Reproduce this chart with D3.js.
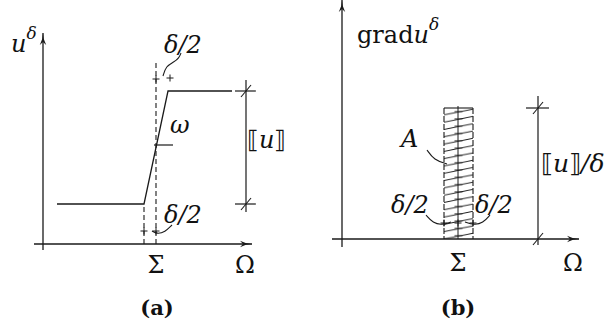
<!DOCTYPE html>
<html><head><meta charset="utf-8">
<script src="https://cdn.jsdelivr.net/npm/d3@7"></script>
<style>
html,body{margin:0;padding:0;background:#fff;}
svg{display:block;}
</style></head>
<body>
<svg id="c" width="614" height="330"></svg>
<script>
// ---- Panel (a) data (abstract units) ----
const stepX = [0.7, 5.05, 6.25, 9.45];        // profile of u^delta
const stepY = [2.0, 2.0, 7.65, 7.65];
const sigmaA = 5.65, leftBandA = 5.05;
const jumpXA = 10.15;                          // dimension line [[u]]
const omegaY = 4.95;
const dashTopA = 9.15;
const plusA = [[5.65, 8.25], [6.35, 8.3], [5.05, 0.65], [5.65, 0.65]];
const braceTopA = [[6.0, 8.4], [6.15, 8.9], [6.55, 9.1], [6.8, 9.3], [6.9, 9.55]];
const braceBotA = [[5.45, 0.65], [5.7, 0.5], [6.1, 0.6], [6.45, 0.95]];

// ---- Panel (b) data ----
const bandB = [5.1, 6.55];       // hatched band (x)
const sigmaB = 5.8;
const bandTopB = 6.55;
const jumpXB = 9.8, jumpTopB = 7.15;
const plusB = [[5.1, 0.8], [5.8, 0.8], [6.55, 0.8]];
const braceLB = [[4.2, 1.2], [4.55, 0.8], [5.0, 0.7], [5.45, 0.85]];
const braceRB = [[6.15, 0.85], [6.6, 0.7], [7.05, 0.8], [7.4, 1.2]];
const braceAB = [[4.25, 4.45], [4.6, 3.95], [5.25, 3.75]];

const svg = d3.select("#c");
const xA = d3.scaleLinear().domain([0, 10]).range([43, 243]);
const yA = d3.scaleLinear().domain([0, 10]).range([244, 44]);
const xB = d3.scaleLinear().domain([0, 10]).range([342, 542]);
const yB = d3.scaleLinear().domain([0, 10]).range([239, 39]);

const ink = "#1a1a1a";
const defs = svg.append("defs");
defs.append("marker").attr("id","arr").attr("viewBox","0 0 12 8").attr("refX",12).attr("refY",4)
  .attr("markerWidth",12).attr("markerHeight",8).attr("markerUnits","userSpaceOnUse").attr("orient","auto")
  .append("path").attr("d","M0,0.8 Q6,4 12,4 Q6,4 0,7.2 L3,4 Z").attr("fill",ink);

function line(g, x1, y1, x2, y2, w, dash) {
  const l = g.append("line").attr("x1",x1).attr("y1",y1).attr("x2",x2).attr("y2",y2)
    .attr("stroke",ink).attr("stroke-width",w||1.2);
  if (dash) l.attr("stroke-dasharray",dash);
  return l;
}
function plus(g, x, y) { line(g,x-3.5,y,x+3.5,y,1); line(g,x,y-3.5,x,y+3.5,1); }
function slash(g, x, y) { line(g,x-5,y+6,x+5,y-6,1.1); }
const curve = (sx, sy) => d3.line().x(d => sx(d[0])).y(d => sy(d[1])).curve(d3.curveBasis);
function txt(g, x, y, size, italic) {
  const t = g.append("text").attr("x",x).attr("y",y)
    .attr("font-size", size).attr("font-family","DejaVu Serif").attr("fill","#111");
  if (italic) t.attr("font-style","italic");
  return t;
}

// ================= Panel (a) =================
const a = svg.append("g");
line(a, xA(0), yA(-0.3), xA(0), yA(10.55), 1.3).attr("marker-end","url(#arr)");
line(a, xA(-0.45), yA(0), xA(10.45), yA(0), 1.3).attr("marker-end","url(#arr)");
a.append("path").datum(d3.zip(stepX, stepY)).attr("fill","none").attr("stroke",ink).attr("stroke-width",1.3)
  .attr("d", d3.line().x(d=>xA(d[0])).y(d=>yA(d[1])));
line(a, xA(sigmaA), yA(0), xA(sigmaA), yA(dashTopA), 1.1, "5,3");
line(a, xA(leftBandA), yA(0), xA(leftBandA), yA(stepY[0]), 1.1, "5,3");
line(a, xA(5.55), yA(omegaY), xA(6.5), yA(omegaY), 1.2);
line(a, xA(jumpXA), yA(stepY[3]+0.55), xA(jumpXA), yA(stepY[0]-0.4), 1.2);
line(a, xA(jumpXA-0.55), yA(stepY[3]), xA(jumpXA+0.5), yA(stepY[3]), 1.2);
line(a, xA(jumpXA-0.55), yA(stepY[0]), xA(jumpXA+0.5), yA(stepY[0]), 1.2);
slash(a, xA(jumpXA), yA(stepY[3]));
slash(a, xA(jumpXA), yA(stepY[0]));
plusA.forEach(p => plus(a, xA(p[0]), yA(p[1])));
a.append("path").attr("d", curve(xA,yA)(braceTopA)).attr("fill","none").attr("stroke",ink).attr("stroke-width",1.1);
a.append("path").attr("d", curve(xA,yA)(braceBotA)).attr("fill","none").attr("stroke",ink).attr("stroke-width",1.1);

const fs = 24;
let t = txt(a, 11, 52, fs, true);
t.append("tspan").text("u");
t.append("tspan").attr("dy",-13).attr("font-size",17).text("δ");
txt(a, 164, 53, fs, true).text("δ/2");
txt(a, 164, 223, fs, true).text("δ/2");
txt(a, 170, 133, fs, true).text("ω");
t = txt(a, 247, 148, fs, false);
t.append("tspan").text("⟦");
t.append("tspan").attr("font-style","italic").text("u");
t.append("tspan").text("⟧");
txt(a, xA(sigmaA), 273, fs).attr("text-anchor","middle").text("Σ");
txt(a, xA(jumpXA)-1, 273, fs).attr("text-anchor","middle").text("Ω");
txt(a, 157, 315, 21).attr("text-anchor","middle").attr("font-weight","bold").text("(a)");

// ================= Panel (b) =================
const b = svg.append("g");
line(b, xB(0), yB(-0.4), xB(0), yB(11.95), 1.3).attr("marker-end","url(#arr)");
line(b, xB(-0.5), yB(0), xB(11.85), yB(0), 1.3).attr("marker-end","url(#arr)");

const bx0 = xB(bandB[0]), bx1 = xB(bandB[1]), bw = bx1 - bx0, by0 = yB(bandTopB), by1 = yB(0);
const pat = defs.append("pattern").attr("id","hatch").attr("patternUnits","userSpaceOnUse")
  .attr("x",bx0).attr("y",by0).attr("width",bw).attr("height",7.3);
pat.append("line").attr("x1",0).attr("y1",6.8).attr("x2",bw).attr("y2",1.2).attr("stroke",ink).attr("stroke-width",1);
pat.append("line").attr("x1",bw/2-4).attr("y1",3.6).attr("x2",bw/2+4).attr("y2",3.6).attr("stroke",ink).attr("stroke-width",0.9);
b.append("rect").attr("x",bx0).attr("y",by0).attr("width",bw).attr("height",by1-by0).attr("fill","url(#hatch)");
line(b, bx0, by0, bx1, by0, 1.1);
line(b, bx0, by0, bx0, by1, 1.1, "6,2");
line(b, bx1, by0, bx1, by1, 1.1, "6,2");
line(b, xB(sigmaB), by0-2, xB(sigmaB), by1, 1);

line(b, xB(jumpXB), yB(jumpTopB), xB(jumpXB), yB(-0.3), 1.2);
line(b, xB(jumpXB-0.6), yB(bandTopB), xB(jumpXB+0.55), yB(bandTopB), 1.2);
slash(b, xB(jumpXB), yB(bandTopB));
slash(b, xB(jumpXB), yB(0));
plusB.forEach(p => plus(b, xB(p[0]), yB(p[1])));
[braceLB, braceRB, braceAB].forEach(br =>
  b.append("path").attr("d", curve(xB,yB)(br)).attr("fill","none").attr("stroke",ink).attr("stroke-width",1.1));

t = txt(b, 357, 43, fs, false);
t.append("tspan").text("grad");
t.append("tspan").attr("font-style","italic").text("u");
t.append("tspan").attr("font-style","italic").attr("dy",-13).attr("font-size",17).text("δ");
txt(b, 401, 147, fs, true).text("A");
txt(b, 391, 213, fs, true).text("δ/2");
txt(b, 475, 213, fs, true).text("δ/2");
t = txt(b, 541, 172, 25, false);
t.append("tspan").text("⟦");
t.append("tspan").attr("font-style","italic").text("u");
t.append("tspan").text("⟧");
t.append("tspan").attr("font-style","italic").text("/δ");
txt(b, xB(sigmaB), 271, fs).attr("text-anchor","middle").text("Σ");
txt(b, 573, 271, fs).attr("text-anchor","middle").text("Ω");
txt(b, 458, 315, 21).attr("text-anchor","middle").attr("font-weight","bold").text("(b)");
</script>
</body></html>
